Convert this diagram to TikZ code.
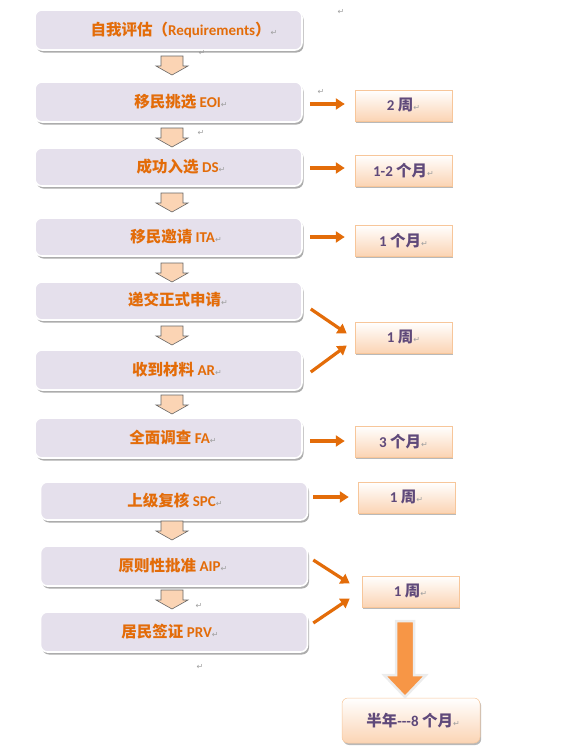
\documentclass[tikz,border=0pt]{standalone}
\usepackage{fontspec}
\setmainfont{Carlito}
\newfontfamily\cjk{Noto Sans CJK SC}
\newfontfamily\lat{Carlito}
\newfontfamily\dvs{DejaVu Sans}
\usetikzlibrary{shadows,arrows.meta}
\definecolor{otext}{HTML}{E36C09}
\definecolor{ptext}{HTML}{5F497A}
\definecolor{lav}{HTML}{E5E0EC}
\definecolor{peach}{HTML}{FBD4B4}
\definecolor{peachline}{HTML}{F7C69A}
\definecolor{oarr}{HTML}{E36C09}
\definecolor{bigarr}{HTML}{F79646}
\newcommand\retmk{{\dvs\fontsize{8}{8}\selectfont\textcolor{gray!75}{↵}}}
\newcommand\zh[1]{{\cjk\bfseries\fontsize{15.5}{17}\selectfont #1}}
\newcommand\en[1]{{\lat\bfseries #1}}
\begin{document}
\begin{tikzpicture}[x=1pt,y=-1pt,
  lbox/.style={draw=white, line width=1.6pt, fill=lav, rounded corners=7pt,
    minimum width=267pt, minimum height=40pt,
    drop shadow={shadow xshift=1.5pt, shadow yshift=-2.5pt, fill=gray!65, opacity=1}},
  ltext/.style={text=otext, font=\fontsize{15}{17}\selectfont, inner sep=0pt},
  rbox/.style={draw=peachline, line width=0.5pt, top color=white, bottom color=peach,
    minimum width=97pt, minimum height=31pt,
    drop shadow={shadow xshift=1.2pt, shadow yshift=-2pt, fill=gray!55, opacity=1}},
  rtext/.style={text=ptext, font=\fontsize{15}{17}\selectfont, inner sep=0pt},
  oarrow/.style={draw=oarr, line width=3.2pt, -{Triangle[width=11pt,length=9pt]}},
  pics/darrow/.style={code={
    \filldraw[fill=peach, draw=gray!80!black, line width=0.6pt]
      (-11,0) -- (11,0) -- (11,10) -- (16,10) -- (0,19) -- (-16,10) -- (-11,10) -- cycle;}},
  retn/.style={inner sep=0pt}
]
\useasboundingbox (0,0) rectangle (566,747);

% left boxes
\node[lbox] (b1) at (168.5,30) {};
\node[lbox] (b2) at (168.5,102) {};
\node[lbox, minimum height=38pt] (b3) at (168.5,167) {};
\node[lbox, minimum height=38pt] (b4) at (168.5,237) {};
\node[lbox, minimum height=38pt] (b5) at (168.5,301) {};
\node[lbox] (b6) at (168.5,370) {};
\node[lbox] (b7) at (168.5,438) {};
\node[lbox, minimum height=38pt] (b8) at (174,501) {};
\node[lbox] (b9) at (174,566) {};
\node[lbox] (b10) at (174,632) {};

\node[ltext] (t1) at (184,30) {\zh{自我评估（}\en{Requirements}\zh{）}\retmk};
\node[ltext] (t2) at (181,102) {\zh{移民挑选} \en{EOI}\retmk};
\node[ltext] (t3) at (181,167) {\zh{成功入选} \en{DS}\retmk};
\node[ltext] (t4) at (176,237) {\zh{移民邀请} \en{ITA}\retmk};
\node[ltext] (t5) at (178,300) {\zh{递交正式申请}\retmk};
\node[ltext] (t6) at (177,370) {\zh{收到材料} \en{AR}\retmk};
\node[ltext] (t7) at (173,438) {\zh{全面调查} \en{FA}\retmk};
\node[ltext] (t8) at (175,501) {\zh{上级复核} \en{SPC}\retmk};
\node[ltext] (t9) at (173,566) {\zh{原则性批准} \en{AIP}\retmk};
\node[ltext] (t10) at (170,632) {\zh{居民签证} \en{PRV}\retmk};

% block arrows
\pic at (172,56) {darrow};
\pic at (172,128) {darrow};
\pic at (172,193) {darrow};
\pic at (172,263) {darrow};
\pic at (172,326) {darrow};
\pic at (172,395) {darrow};
\pic at (172,521) {darrow};
\pic at (172,590) {darrow};

% right boxes
\node[rbox] (r1) at (403.5,105.5) {};
\node[rbox] (r2) at (403.5,170.5) {};
\node[rbox] (r3) at (403.5,240.5) {};
\node[rbox] (r4) at (403.5,337.5) {};
\node[rbox] (r5) at (403.5,441.5) {};
\node[rbox] (r6) at (406.5,497.5) {};
\node[rbox] (r7) at (410.5,591.5) {};
\node[rbox, rounded corners=6pt, minimum width=138pt, minimum height=45pt] (r8) at (411,720.5) {};

\node[rtext] (s1) at (r1) {\en{2} \zh{周}\retmk};
\node[rtext] (s2) at (r2) {\en{1-2} \zh{个月}\retmk};
\node[rtext] (s3) at (r3) {\en{1} \zh{个月}\retmk};
\node[rtext] (s4) at (r4) {\en{1} \zh{周}\retmk};
\node[rtext] (s5) at (r5) {\en{3} \zh{个月}\retmk};
\node[rtext] (s6) at (r6) {\en{1} \zh{周}\retmk};
\node[rtext] (s7) at (r7) {\en{1} \zh{周}\retmk};
\node[rtext, font=\fontsize{15}{17}\selectfont] (s8) at ([xshift=2pt]r8.center) {\zh{半年}\en{---8} \zh{个月}\retmk};

% orange connectors
\draw[oarrow] ([shift={(7,2)}]b2.east) -- ([shift={(-10,-1.5)}]r1.west);
\draw[oarrow] ([shift={(7,1)}]b3.east) -- ([shift={(-10,-2.5)}]r2.west);
\draw[oarrow] ([shift={(7,0)}]b4.east) -- ([shift={(-10,-3.5)}]r3.west);
\draw[oarrow] ([shift={(8,8)}]b5.east) -- ([shift={(-8,-4)}]r4.west);
\draw[oarrow] ([shift={(8,2)}]b6.east) -- ([shift={(-8,8)}]r4.west);
\draw[oarrow] ([shift={(7,3)}]b7.east) -- ([shift={(-10,-0.5)}]r5.west);
\draw[oarrow] ([shift={(5,-4)}]b8.east) -- ([shift={(-9,-0.5)}]r6.west);
\draw[oarrow] ([shift={(5,-6)}]b9.east) -- ([shift={(-12,-8)}]r7.west);
\draw[oarrow] ([shift={(5,-9)}]b10.east) -- ([shift={(-12,7)}]r7.west);

% big down arrow
\filldraw[fill=bigarr, draw=white!85!gray, line width=2.5pt, line join=miter]
  (396,621) -- (414,621) -- (414,675) -- (426,675) -- (405,697) -- (384,675) -- (396,675) -- cycle;

% stray paragraph marks
\node[retn] (p1) at (341,12) {\retmk};
\node[retn] (p2) at (202,53) {\retmk};
\node[retn] (p3) at (321,92) {\retmk};
\node[retn] (p4) at (201,133) {\retmk};
\node[retn] (p5) at (199,606) {\retmk};
\node[retn] (p6) at (200,667) {\retmk};
\end{tikzpicture}
\end{document}
